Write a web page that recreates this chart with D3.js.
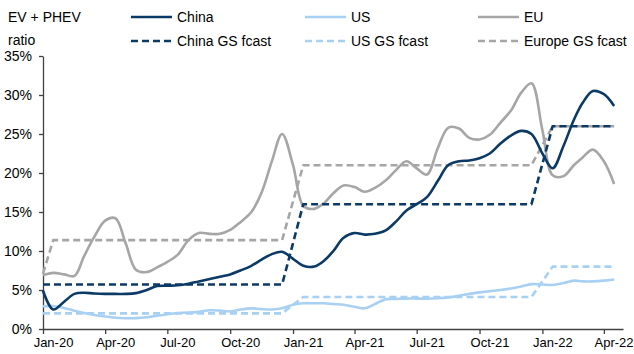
<!DOCTYPE html>
<html>
<head>
<meta charset="utf-8">
<script src="https://cdn.jsdelivr.net/npm/d3@7"></script>
<style>
  html, body { margin: 0; padding: 0; background: #fff; }
  svg { display: block; font-family: "Liberation Sans", Arial, sans-serif; }
</style>
</head>
<body>
<svg id="chart" width="634" height="354"></svg>
<script>
// Semi-monthly observation dates: 1st and 16th of each month, Jan-2020 .. mid Apr-2022
const obsDates = d3.range(56).map(k => new Date(2020, Math.floor(k / 2), k % 2 ? 16 : 1));

// EV + PHEV penetration, % of new car sales
const chinaValues = [
  4.9, 2.5, 3.5, 4.5, 4.65, 4.55, 4.5, 4.5, 4.5, 4.6,
  5.0, 5.5, 5.55, 5.6, 5.8, 6.1, 6.4, 6.7, 7.0, 7.5,
  8.1, 8.9, 9.6, 9.9, 9.0, 8.1, 8.0, 8.8, 10.0, 11.7,
  12.3, 12.1, 12.2, 12.6, 13.8, 15.2, 16.0, 16.9, 19.0, 21.0,
  21.5, 21.6, 21.9, 22.5, 23.8, 24.8, 25.4, 25.0, 22.5, 20.6,
  23.5, 26.8, 29.0, 30.5, 30.1, 28.6
];
const usValues = [
  2.9, 2.95, 2.7, 2.35, 2.05, 1.8, 1.6, 1.45, 1.38, 1.4,
  1.5, 1.7, 1.9, 2.05, 2.1, 2.2, 2.4, 2.35, 2.25, 2.5,
  2.65, 2.55, 2.5, 2.65, 3.1, 3.3, 3.3, 3.3, 3.2, 3.1,
  2.85, 2.65, 3.2, 3.8, 3.85, 3.9, 3.9, 3.9, 3.95, 4.05,
  4.25, 4.5, 4.7, 4.85, 5.0, 5.2, 5.45, 5.75, 5.7, 5.65,
  5.9, 6.2, 6.1, 6.1, 6.2, 6.35
];
const euValues = [
  6.9, 7.2, 7.0, 6.8, 9.3, 11.8, 13.9, 14.2, 11.0, 7.6,
  7.3, 7.9, 8.6, 9.5, 11.4, 12.3, 12.2, 12.2, 12.7, 13.7,
  15.0, 17.5, 21.5, 25.0, 21.0, 15.8, 15.4, 16.2, 17.4, 18.4,
  18.2, 17.6, 18.1, 19.0, 20.4, 21.5, 20.6, 19.8, 23.2, 25.8,
  25.7, 24.5, 24.3, 24.9, 26.5, 28.0, 30.3, 31.5, 25.5, 19.7,
  19.6, 21.0, 22.0, 23.0, 21.5, 18.6
];

// GS forecast steps
const chinaFcastDates = ["2020-01-01", "2020-12-16", "2021-01-16", "2021-12-16", "2022-01-16", "2022-04-16"];
const chinaFcastValues = [5.7, 5.7, 16.0, 16.0, 26.0, 26.0];
const usFcastDates = ["2020-01-01", "2020-12-16", "2021-01-16", "2021-12-16", "2022-01-16", "2022-04-16"];
const usFcastValues = [2.0, 2.0, 4.1, 4.1, 8.0, 8.0];
const euFcastDates = ["2020-01-01", "2020-01-16", "2020-12-16", "2021-01-16", "2021-12-16", "2022-01-16", "2022-04-16"];
const euFcastValues = [7.1, 11.4, 11.4, 21.0, 21.0, 26.0, 26.0];

const yTicks = [0, 5, 10, 15, 20, 25, 30, 35];
const xTickLabels = ["Jan-20", "Apr-20", "Jul-20", "Oct-20", "Jan-21", "Apr-21", "Jul-21", "Oct-21", "Jan-22", "Apr-22"];

const legendItems = [
  { name: "China", color: "#0c3a66", dash: null, col: 0, row: 0 },
  { name: "US", color: "#a8d0f2", dash: null, col: 1, row: 0 },
  { name: "EU", color: "#a6a6a6", dash: null, col: 2, row: 0 },
  { name: "China GS fcast", color: "#0c3a66", dash: "7,4", col: 0, row: 1 },
  { name: "US GS fcast", color: "#a8d0f2", dash: "7,4", col: 1, row: 1 },
  { name: "Europe GS fcast", color: "#a6a6a6", dash: "7,4", col: 2, row: 1 }
];

const W = 634;
const svg = d3.select("#chart");
const parse = d3.timeParse("%Y-%m-%d");

const x = d3.scaleTime()
  .domain([new Date(2020, 0, 1), new Date(2022, 3, 29)])
  .range([43, 623]);
const y = d3.scaleLinear().domain([0, 35]).range([329, 56]);

const xTickDates = xTickLabels.map(s => d3.timeParse("%b-%y")(s));

// axes
const xAxis = svg.append("g")
  .attr("transform", `translate(0,${y(0)})`)
  .call(d3.axisBottom(x).tickValues(xTickDates).tickFormat(d3.timeFormat("%b-%y"))
    .tickSize(5).tickSizeOuter(0).tickPadding(4));
// labels sit in the middle of their month; keep the last one inside the frame
xAxis.selectAll(".tick").each(function (d) {
  const t = d3.select(this).select("text")
    .attr("font-size", 13).attr("fill", "#000")
    .attr("font-family", '"Liberation Sans", Arial, sans-serif');
  let off = 10;
  const w = t.node().getComputedTextLength();
  const right = x(d) + off + w / 2;
  if (right > W - 1) off -= right - (W - 1);
  t.attr("x", off);
});

const yAxis = svg.append("g")
  .attr("transform", `translate(${x.range()[0]},0)`)
  .call(d3.axisLeft(y).tickValues(yTicks).tickFormat(d => d + "%")
    .tickSize(4).tickSizeOuter(0).tickPadding(7));
yAxis.selectAll("text").attr("font-size", 14).attr("fill", "#000")
  .attr("font-family", '"Liberation Sans", Arial, sans-serif');

svg.selectAll(".domain, .tick line").attr("stroke", "#404040").attr("stroke-width", 1.3);

// series
const smooth = d3.curveCatmullRom.alpha(0.5);
const series = [
  { dates: euFcastDates.map(parse), values: euFcastValues, color: "#a6a6a6", dash: "7,4", curve: d3.curveLinear },
  { dates: usFcastDates.map(parse), values: usFcastValues, color: "#a8d0f2", dash: "7,4", curve: d3.curveLinear },
  { dates: obsDates, values: usValues, color: "#a8d0f2", dash: null, curve: smooth },
  { dates: obsDates, values: euValues, color: "#a6a6a6", dash: null, curve: smooth },
  { dates: chinaFcastDates.map(parse), values: chinaFcastValues, color: "#0c3a66", dash: "7,4", curve: d3.curveLinear },
  { dates: obsDates, values: chinaValues, color: "#0c3a66", dash: null, curve: smooth }
];

series.forEach(s => {
  const pts = s.dates.map((d, i) => [d, s.values[i]]);
  svg.append("path")
    .datum(pts)
    .attr("fill", "none")
    .attr("stroke", s.color)
    .attr("stroke-width", 2.6)
    .attr("stroke-linejoin", "round")
    .attr("stroke-dasharray", s.dash)
    .attr("d", d3.line().x(p => x(p[0])).y(p => y(p[1])).curve(s.curve));
});

// legend
const colX = [131, 305, 478];
const rowY = [17, 41];
const lg = svg.append("g");
legendItems.forEach(it => {
  const lx = colX[it.col], ly = rowY[it.row];
  lg.append("line")
    .attr("x1", lx).attr("x2", lx + 41).attr("y1", ly).attr("y2", ly)
    .attr("stroke", it.color).attr("stroke-width", 2.6)
    .attr("stroke-dasharray", it.dash);
  lg.append("text")
    .attr("x", lx + 46).attr("y", ly).attr("dy", "0.35em")
    .attr("font-size", 14).attr("fill", "#000")
    .text(it.name);
});

// axis title
svg.append("text").attr("x", 8).attr("y", 17).attr("dy", "0.35em")
  .attr("font-size", 14).attr("fill", "#000").text("EV + PHEV");
svg.append("text").attr("x", 8).attr("y", 40).attr("dy", "0.35em")
  .attr("font-size", 14).attr("fill", "#000").text("ratio");
</script>
</body>
</html>
